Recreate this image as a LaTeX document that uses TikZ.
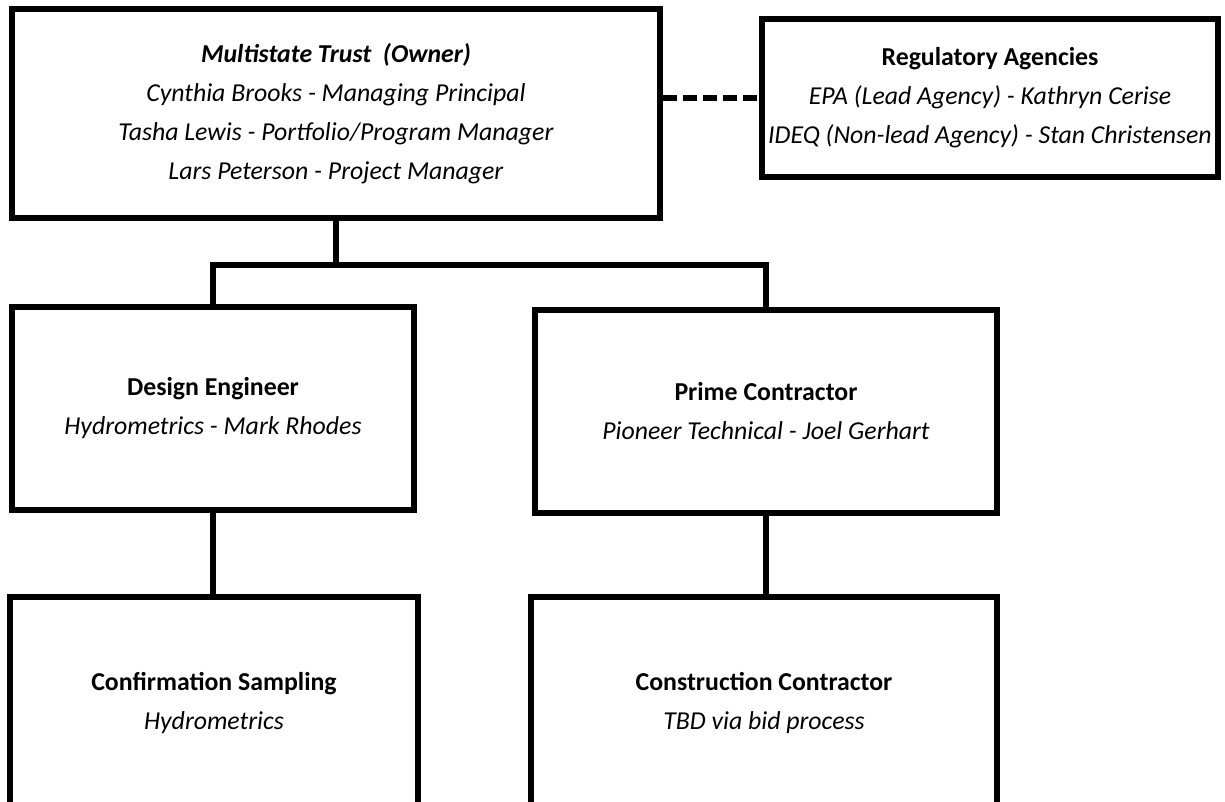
\documentclass[tikz,border=0pt]{standalone}
\usepackage{fontspec}
\setmainfont{Carlito}
\begin{document}
\begin{tikzpicture}[x=1pt,y=-1pt,
  orgbox/.style={draw=black,line width=6pt,fill=white,inner sep=0pt,align=center,
    font=\fontsize{25.8}{39}\selectfont},
  link/.style={draw=black,line width=6pt},
  dashlink/.style={draw=black,line width=6pt,dash pattern=on 14pt off 6pt}]
\fill[white] (0,0) rectangle (1225,801);
\useasboundingbox (0,0) rectangle (1225,801);
\clip (0,0) rectangle (1225,801);
\node[orgbox,minimum width=648pt,minimum height=209pt] (owner) at (336,113.5)
  {\textbf{\textit{Multistate Trust\ \ (Owner)}}\\ \textit{Cynthia Brooks - Managing Principal}\\ \textit{Tasha Lewis - Portfolio/Program Manager}\\ \textit{Lars Peterson - Project Manager}};
\node[orgbox,minimum width=456pt,minimum height=158pt] (reg) at (990,98)
  {\textbf{Regulatory Agencies}\\ \textit{EPA (Lead Agency) - Kathryn Cerise}\\ \textit{IDEQ (Non-lead Agency) - Stan Christensen}};
\node[orgbox,minimum width=402pt,minimum height=203pt] (design) at (213,408.5)
  {\textbf{Design Engineer}\\ \textit{Hydrometrics - Mark Rhodes}};
\node[orgbox,minimum width=462pt,minimum height=203pt] (prime) at (766,411.5)
  {\textbf{Prime Contractor}\\ \textit{Pioneer Technical - Joel Gerhart}};
\node[orgbox,minimum width=408pt,minimum height=212pt] (conf) at (214,703)
  {\textbf{Confirmation Sampling}\\ \textit{Hydrometrics}};
\node[orgbox,minimum width=466pt,minimum height=212pt] (constr) at (764,703)
  {\textbf{Construction Contractor}\\ \textit{TBD via bid process}};
\coordinate (j) at (336,265);
\draw[link] (owner.south) -- (j);
\draw[link] (design.north) |- (j) -| (prime.north);
\draw[link] (design.south) -- (design.south |- conf.north);
\draw[link] (prime.south) -- (prime.south |- constr.north);
\draw[dashlink] (owner.east |- reg.west) -- (reg.west);
\end{tikzpicture}
\end{document}
